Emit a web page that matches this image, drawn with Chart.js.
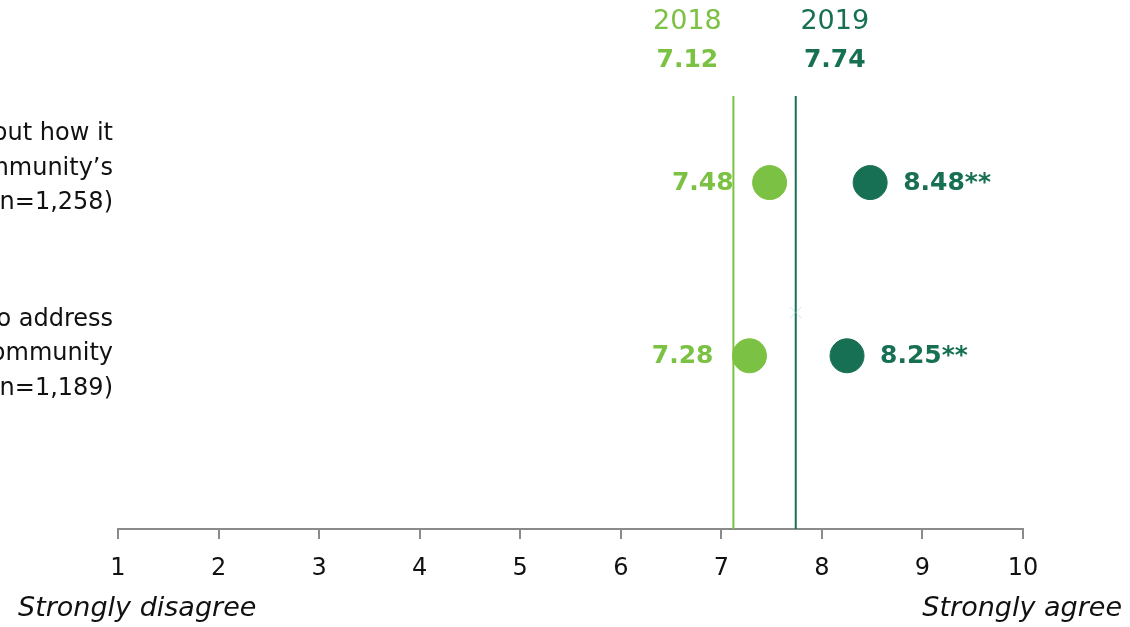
<!DOCTYPE html>
<html lang="en">
<head>
    <meta charset="UTF-8">
    <title>Agreement scores 2018 vs 2019</title>
    <script src="https://cdn.jsdelivr.net/npm/chart.js"></script>
    <style>
        html, body { margin: 0; padding: 0; background: #fff; }
        .wrap { width: 1130px; height: 627px; position: relative; }
    </style>
</head>
<body>
    <div class="wrap">
        <canvas id="dotChart" width="1130" height="627"></canvas>
    </div>

    <script>
        // data
        const questions = [
            ['I feel informed about how it', 'supports my community\u2019s', 'needs (n=1,258)'],
            ['It is working to address', 'issues in my community', 'overall (n=1,189)']
        ];
        const rowPos = [0.5, 1.5];
        const years = ['2018', '2019'];
        const scores2018 = [7.48, 7.28];
        const scores2019 = [8.48, 8.25];
        const sigMarks2019 = ['**', '**'];
        const overall = [7.12, 7.74];
        const xTicks = [1, 2, 3, 4, 5, 6, 7, 8, 9, 10];
        const endLabels = ['Strongly disagree', 'Strongly agree'];

        const light = '#7bc143';
        const dark = '#177053';
        const font = "'DejaVu Sans', sans-serif";
        // question blocks sit a little off their dot row
        const qShift = [-14, -2];

        const vLine = (v, color) => ({
            type: 'line',
            data: [{ x: v, y: 0 }, { x: v, y: 2.5 }],
            borderColor: color,
            borderWidth: 2,
            pointRadius: 0,
            order: 3
        });

        const textPlugin = {
            id: 'textPlugin',
            afterDatasetsDraw(chart) {
                const ctx = chart.ctx;
                const xs = chart.scales.x;
                const ys = chart.scales.y;
                ctx.save();
                ctx.textBaseline = 'middle';

                // question text, right aligned against the plot
                ctx.fillStyle = '#111';
                ctx.font = '24px ' + font;
                ctx.textAlign = 'right';
                rowPos.forEach((r, i) => {
                    const mid = ys.getPixelForValue(r) + qShift[i];
                    const lines = questions[i];
                    lines.forEach((t, j) => {
                        ctx.fillText(t, chart.chartArea.left - 5, mid + (j - (lines.length - 1) / 2) * 34.5);
                    });
                });

                // point labels
                ctx.font = 'bold 25px ' + font;
                rowPos.forEach((r, i) => {
                    const y = ys.getPixelForValue(r);
                    ctx.fillStyle = light;
                    ctx.textAlign = 'right';
                    ctx.fillText(scores2018[i].toFixed(2), xs.getPixelForValue(scores2018[i]) - 36, y + 1);
                    ctx.fillStyle = dark;
                    ctx.textAlign = 'left';
                    ctx.fillText(scores2019[i].toFixed(2) + sigMarks2019[i], xs.getPixelForValue(scores2019[i]) + 33, y + 1);
                });

                // header above the overall lines
                const hx = [xs.getPixelForValue(overall[0]) - 46, xs.getPixelForValue(overall[1]) + 39];
                const cols = [light, dark];
                ctx.textAlign = 'center';
                hx.forEach((x, i) => {
                    ctx.fillStyle = cols[i];
                    ctx.font = '27px ' + font;
                    ctx.fillText(years[i], x, 22);
                    ctx.font = 'bold 25px ' + font;
                    ctx.fillText(overall[i].toFixed(2), x, 60);
                });

                // scale end captions
                ctx.fillStyle = '#111';
                ctx.font = 'italic 27px ' + font;
                ctx.textAlign = 'left';
                ctx.fillText(endLabels[0], 18, 609);
                ctx.textAlign = 'right';
                ctx.fillText(endLabels[1], 1122, 609);
                ctx.restore();
            }
        };

        new Chart(document.getElementById('dotChart'), {
            type: 'scatter',
            data: {
                datasets: [
                    {
                        label: years[0],
                        data: scores2018.map((v, i) => ({ x: v, y: rowPos[i] })),
                        backgroundColor: light,
                        borderColor: light,
                        pointRadius: 17,
                        pointHoverRadius: 17,
                        order: 1
                    },
                    {
                        label: years[1],
                        data: scores2019.map((v, i) => ({ x: v, y: rowPos[i] })),
                        backgroundColor: dark,
                        borderColor: dark,
                        pointRadius: 17,
                        pointHoverRadius: 17,
                        order: 1
                    },
                    vLine(overall[0], light),
                    vLine(overall[1], dark),
                    {
                        label: 'marker',
                        data: [{ x: overall[1], y: 1.25 }],
                        pointStyle: 'crossRot',
                        pointRadius: 8,
                        borderColor: 'rgba(140, 200, 205, 0.45)',
                        borderWidth: 1,
                        order: 2
                    }
                ]
            },
            options: {
                responsive: false,
                animation: false,
                layout: { padding: { top: 96, right: 107, left: 0, bottom: 0 } },
                plugins: { legend: { display: false }, tooltip: { enabled: false } },
                scales: {
                    x: {
                        type: 'linear',
                        min: 1,
                        max: 10,
                        afterBuildTicks: s => { s.ticks = xTicks.map(v => ({ value: v })); },
                        afterFit: s => { s.height = 98; },
                        border: { color: '#8a8a8a', width: 2 },
                        grid: { drawOnChartArea: false, color: '#8a8a8a', lineWidth: 2, tickLength: 10 },
                        ticks: { color: '#111', font: { family: font, size: 24 }, padding: 15 }
                    },
                    y: {
                        type: 'linear',
                        reverse: true,
                        min: 0,
                        max: 2.5,
                        afterFit: s => { s.width = 118; },
                        border: { display: false },
                        grid: { display: false },
                        ticks: { display: false }
                    }
                }
            },
            plugins: [textPlugin]
        });
    </script>
</body>
</html>
